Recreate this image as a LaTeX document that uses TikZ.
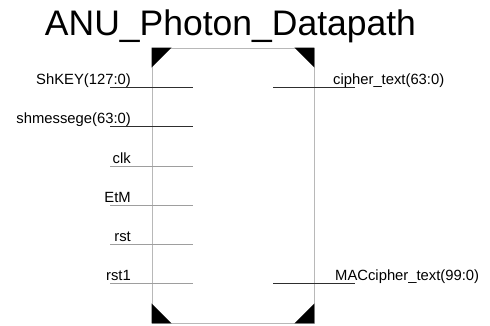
\documentclass[tikz,border=0pt]{standalone}
\usepackage{fontspec}
\setmainfont{Liberation Sans}
\usepackage{xcolor}
\usepackage{tikz}
\usetikzlibrary{positioning,calc}
\definecolor{boxline}{gray}{0.72}
\definecolor{busline}{gray}{0.18}
\definecolor{bitline}{gray}{0.62}

\begin{document}
\begin{tikzpicture}[
  x=1pt, y=-1pt,
  every node/.style={font=\fontsize{14.8}{17}\selectfont, inner sep=0pt},
  titletext/.style={font=\fontsize{35.5}{42}\selectfont, anchor=base},
  blockbox/.style={
    rectangle, draw=boxline, line width=0.8pt,
    minimum width=162pt, minimum height=275pt
  },
  corner/.style={fill=black},
  inlabel/.style={anchor=base east},
  outlabel/.style={anchor=base west},
  buspin/.style={draw=busline, line width=1pt},
  bitpin/.style={draw=bitline, line width=0.8pt}
]
\useasboundingbox (0,0) rectangle (490,325);

% Title
\node[titletext] (title) at (230.5,35) {ANU\_Photon\_Datapath};

% Block outline with corner marks
\node[blockbox] (block) at (233,185.5) {};
\fill[corner] (block.north west) -- ++(20,0) -- ++(-20,20) -- cycle;
\fill[corner] (block.north east) -- ++(-20,0) -- ++(20,20) -- cycle;
\fill[corner] (block.south west) -- ++(20,0) -- ++(-20,-20) -- cycle;
\fill[corner] (block.south east) -- ++(-20,0) -- ++(20,-20) -- cycle;

% Input pins
\coordinate (shkeyA) at (110,87);   \coordinate (shkeyB) at (193,87);
\coordinate (shmsgA) at (110,126);  \coordinate (shmsgB) at (193,126);
\coordinate (clkA)   at (110,166);  \coordinate (clkB)   at (193,166);
\coordinate (etmA)   at (110,205);  \coordinate (etmB)   at (193,205);
\coordinate (rstA)   at (110,244);  \coordinate (rstB)   at (193,244);
\coordinate (rstoA)  at (110,283);  \coordinate (rstoB)  at (193,283);

\draw[buspin] (shkeyA) -- (shkeyB);
\draw[buspin] (shmsgA) -- (shmsgB);
\draw[bitpin] (clkA) -- (clkB);
\draw[bitpin] (etmA) -- (etmB);
\draw[bitpin] (rstA) -- (rstB);
\draw[bitpin] (rstoA) -- (rstoB);

\node[inlabel] (shkey) at ($(shkeyA)+(21,-3)$) {ShKEY(127:0)};
\node[inlabel] (shmsg) at ($(shmsgA)+(21,-3)$) {shmessege(63:0)};
\node[inlabel] (clk)   at ($(clkA)+(21,-3)$)   {clk};
\node[inlabel] (etm)   at ($(etmA)+(21,-3)$)   {EtM};
\node[inlabel] (rst)   at ($(rstA)+(21,-3)$)   {rst};
\node[inlabel] (rsto)  at ($(rstoA)+(21,-3)$)  {rst1};

% Output pins
\coordinate (ctextA) at (273,87);   \coordinate (ctextB) at (355,87);
\coordinate (mactA)  at (273,283);  \coordinate (mactB)  at (355,283);

\draw[buspin] (ctextA) -- (ctextB);
\draw[buspin] (mactA) -- (mactB);

\node[outlabel] (ctext) at ($(ctextA)+(60,-3)$) {cipher\_text(63:0)};
\node[outlabel] (mact)  at ($(mactA)+(62,-3)$)  {MACcipher\_text(99:0)};

\end{tikzpicture}
\end{document}
